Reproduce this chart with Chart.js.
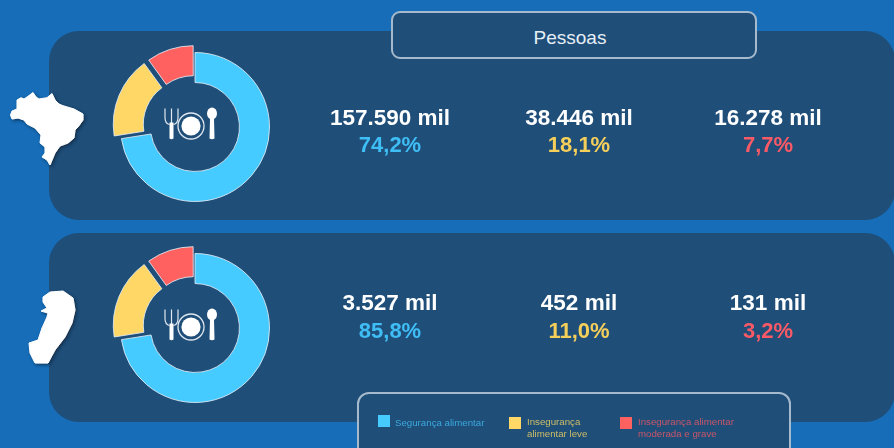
<!DOCTYPE html>
<html lang="pt-BR">
<head>
<meta charset="utf-8">
<title>Pessoas</title>
<script src="https://cdn.jsdelivr.net/npm/chart.js@4"></script>
<style>
  html, body { margin:0; padding:0; }
  body { width:894px; height:448px; background:#176DB8; overflow:hidden; position:relative; font-family:"Liberation Sans", Arial, sans-serif; }
  .panel { position:absolute; left:49px; width:846px; height:189px; background:#1F4E79; border-radius:30px; }
  .box { position:absolute; background:#1F4E79; border:2px solid #a6bacd; box-sizing:border-box; }
  #title { left:391px; top:11px; width:366px; height:48px; border-radius:9px; color:#e6eef6; font-size:19px; line-height:49px; text-align:center; padding-right:8px; }
  #legend { left:357px; top:392px; width:434px; height:70px; border-radius:12px; }
  canvas.donut { position:absolute; }
  .val, .pct { position:absolute; width:180px; text-align:center; font-weight:bold; white-space:nowrap; }
  .val { color:#fff; font-size:22.5px; line-height:26px; }
  .pct { font-size:22px; line-height:26px; }
  .swatch { position:absolute; width:12px; height:12px; }
  .lab { position:absolute; font-size:9.7px; line-height:11.5px; white-space:nowrap; }
  svg#art { position:absolute; left:0; top:0; }
</style>
</head>
<body>
<div class="panel" style="top:31px"></div>
<div class="panel" style="top:233px"></div>
<div class="box" id="title">Pessoas</div>
<div class="box" id="legend"></div>
<canvas class="donut" id="donutBR" width="180" height="180" style="left:104.5px;top:36.5px;width:180px;height:180px"></canvas>
<canvas class="donut" id="donutES" width="180" height="180" style="left:104.5px;top:237.5px;width:180px;height:180px"></canvas>

<svg id="art" width="894" height="448" viewBox="0 0 894 448">
  <defs>
    <filter id="shadow" x="-20%" y="-20%" width="150%" height="150%">
      <feDropShadow dx="1.5" dy="1.5" stdDeviation="1.5" flood-color="#0b2238" flood-opacity="0.7"/>
      <feGaussianBlur stdDeviation="0.3"/>
    </filter>
    <g id="cutlery">
      <!-- fork -->
      <path d="M-29.5 -18 V-9 Q-29.5 -3 -25 -2 M-23 -18 V-2 M-16.5 -18 V-9 Q-16.5 -3 -21 -2" fill="none" stroke="#dfe8f0" stroke-width="1.2"/>
      <path d="M-25 -4 H-21 V12 Q-23 13.5 -25 12 Z" fill="#fff"/>
      <!-- plate -->
      <circle cx="-3.5" cy="-0.5" r="13" fill="none" stroke="#dfe8f0" stroke-width="1.3"/>
      <circle cx="-3.5" cy="-0.5" r="9.6" fill="#fff"/>
      <!-- spoon -->
      <ellipse cx="17.5" cy="-13" rx="5" ry="6" fill="#fff"/>
      <path d="M15.5 -8 H19.5 L20 12 Q17.5 13.5 15 12 Z" fill="#fff"/>
    </g>
  </defs>
  <path filter="url(#shadow)" fill="#fff" stroke="#fff" stroke-width="1" stroke-linejoin="round" d="M10.5 115 L12 111 L17 109 L17 100 L21 97.7 L24 99 L27 97 L33 92.5 L36 97 L39 99 L47 97.7 L52 93.5 L55 100 L59 104 L63 105.7 L74 109 L83 114 L83 120 L78 127 L75 130 L74 138 L68 143 L60 146 L55 153 L50 165 L47 160 L42 157 L45 153 L45 147 L40 143 L41 135 L35 128 L27 124 L24 120 L18 118 L12 119 Z"/>
  <path filter="url(#shadow)" fill="#fff" stroke="#fff" stroke-width="1" stroke-linejoin="round" d="M43 297 L50 292 L63 291 L73 298 L75 310 L72 323 L65 337 L55 350 L48 363 L35 363 L30 353 L29 343 L38 340 L42 328 L47 317 L48 313 L41 311 L47 308 L43 302 Z"/>
  <use href="#cutlery" x="194.5" y="126.5"/>
  <use href="#cutlery" x="194.5" y="327.5"/>
</svg>

<script>
const categories = ["Segurança alimentar", "Insegurança alimentar leve", "Insegurança alimentar moderada e grave"];
const colors = ["#45CBFF", "#FFD766", "#FF6060"];
const textColors = ["#3FBDF5", "#F5CF5A", "#FA5A66"];
const labelColors = ["#3CA9DE", "#CDBE66", "#C9566A"];

// people and shares printed on each row
const brazilPeople = ["157.590 mil", "38.446 mil", "16.278 mil"];
const brazilPct = ["74,2%", "18,1%", "7,7%"];
const esPeople = ["3.527 mil", "452 mil", "131 mil"];
const esPct = ["85,8%", "11,0%", "3,2%"];

const brazilRing = [72.5, 17.5, 10];
const esRing = [72.5, 17.5, 10];
// chart.js moves an arc by offset/4
const ringOffsets = [0, 28, 20];

function donut(id, values){
  new Chart(document.getElementById(id), {
    type: "doughnut",
    data: {
      labels: categories,
      datasets: [{ data: values, backgroundColor: colors, borderColor: "rgba(225,235,245,0.85)", borderWidth: 1, offset: ringOffsets }]
    },
    options: {
      responsive: false, animation: false, radius: 74.5, cutout: "59.7%",
      layout: { padding: 0 },
      plugins: { legend: { display:false }, tooltip: { enabled:false } }
    }
  });
}
donut("donutBR", brazilRing);
donut("donutES", esRing);

// value texts
const columns = [390, 579, 768];
function addText(cls, txt, cx, cy, color){
  const d = document.createElement("div");
  d.className = cls; d.textContent = txt;
  d.style.left = (cx - 90) + "px"; d.style.top = (cy - 13) + "px";
  if (color) d.style.color = color;
  document.body.appendChild(d);
}
function row(people, pct, yVal, yPct){
  columns.forEach((cx, i) => {
    addText("val", people[i], cx, yVal);
    addText("pct", pct[i], cx, yPct, textColors[i]);
  });
}
row(brazilPeople, brazilPct, 118, 145);
row(esPeople, esPct, 303, 331);

// legend, wrapped like the picture
const legendItems = [
  { sx:378, sy:415, tx:395, ty:417, lines:["Segurança alimentar"] },
  { sx:509, sy:417, tx:527, ty:416, lines:["Insegurança", "alimentar leve"] },
  { sx:620, sy:417, tx:638, ty:416, lines:["Insegurança alimentar", "moderada e grave"] }
];
legendItems.forEach((it, i) => {
  const s = document.createElement("div");
  s.className = "swatch"; s.style.left = it.sx+"px"; s.style.top = it.sy+"px"; s.style.background = colors[i];
  document.body.appendChild(s);
  const t = document.createElement("div");
  t.className = "lab"; t.style.left = it.tx+"px"; t.style.top = it.ty+"px"; t.style.color = labelColors[i];
  t.innerHTML = it.lines.join("<br>");
  document.body.appendChild(t);
});
</script>
</body>
</html>
